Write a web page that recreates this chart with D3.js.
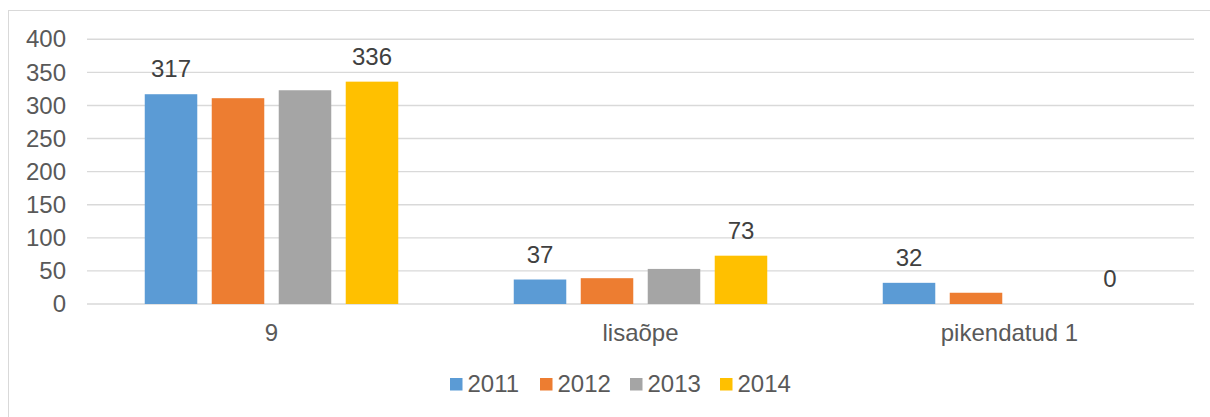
<!DOCTYPE html>
<html>
<head>
<meta charset="utf-8">
<script src="https://cdn.jsdelivr.net/npm/d3@7"></script>
<style>
  body { margin: 0; background: #fff; }
  svg { font-family: "Liberation Sans", Arial, sans-serif; }
</style>
</head>
<body>
<div id="viz"></div>
<script>
const width = 1210;
const height = 417;
const margin = {top: 39.3, right: 16, bottom: 113, left: 87};

// data
const categories = ['9', 'lisaõpe', 'pikendatud 1'];
const years = ['2011', '2012', '2013', '2014'];
const values2011 = [317, 37, 32];
const values2012 = [311, 39, 17];
const values2013 = [323, 53, 0];
const values2014 = [336, 73, 0];
const yTicks = [0, 50, 100, 150, 200, 250, 300, 350, 400];
const labelledYears = ['2011', '2014'];

const colors = {'2011': '#5B9BD5', '2012': '#ED7D31', '2013': '#A5A5A5', '2014': '#FFC000'};
const seriesValues = {'2011': values2011, '2012': values2012, '2013': values2013, '2014': values2014};

const svg = d3.select('#viz')
  .append('svg')
    .attr('width', width)
    .attr('height', height);

// chart border (only top and left are inside the picture)
svg.append('rect')
  .attr('x', 8.5)
  .attr('y', 10.5)
  .attr('width', 1210)
  .attr('height', 500)
  .attr('fill', 'none')
  .attr('stroke', '#d9d9d9')
  .attr('stroke-width', 1);

const x0 = d3.scaleBand()
  .domain(categories)
  .range([margin.left, width - margin.right]);

const x1 = d3.scaleBand()
  .domain(years)
  .range([0, x0.bandwidth()])
  .paddingInner(0.216)
  .paddingOuter(0.862);

const yScale = d3.scaleLinear()
  .domain([0, 400])
  .range([height - margin.bottom, margin.top]);

// gridlines
svg.append('g')
  .selectAll('line')
  .data(yTicks)
  .join('line')
    .attr('x1', margin.left)
    .attr('x2', width - margin.right)
    .attr('y1', d => yScale(d))
    .attr('y2', d => yScale(d))
    .attr('stroke', '#d9d9d9')
    .attr('stroke-width', 1.4);

// y axis labels
const yAxis = d3.axisLeft(yScale)
  .tickValues(yTicks)
  .tickSize(0)
  .tickPadding(0);
const yAxisGroup = svg.append('g')
  .attr('transform', `translate(${margin.left - 21}, 0)`)
  .call(yAxis);
yAxisGroup.select('.domain').remove();
yAxisGroup.selectAll('text')
  .attr('fill', '#595959')
  .style('font-size', '24px')
  .attr('dy', '0.32em');

// bars
const groups = svg.append('g')
  .selectAll('g')
  .data(categories)
  .join('g')
    .attr('transform', d => `translate(${x0(d)}, 0)`);

groups.selectAll('rect')
  .data((c, i) => years.map(yr => ({year: yr, value: seriesValues[yr][i]})))
  .join('rect')
    .attr('x', d => x1(d.year))
    .attr('y', d => yScale(d.value))
    .attr('width', x1.bandwidth())
    .attr('height', d => yScale(0) - yScale(d.value))
    .attr('fill', d => colors[d.year]);

// data labels
groups.selectAll('text')
  .data((c, i) => labelledYears.map(yr => ({year: yr, value: seriesValues[yr][i]})))
  .join('text')
    .attr('x', d => x1(d.year) + x1.bandwidth() / 2)
    .attr('y', d => yScale(d.value) - 17)
    .attr('text-anchor', 'middle')
    .attr('fill', '#404040')
    .style('font-size', '24px')
    .text(d => d.value);

// category labels
svg.append('g')
  .selectAll('text')
  .data(categories)
  .join('text')
    .attr('x', d => x0(d) + x0.bandwidth() / 2)
    .attr('y', 341)
    .attr('text-anchor', 'middle')
    .attr('fill', '#595959')
    .style('font-size', '24px')
    .text(d => d);

// legend
const legend = svg.append('g')
  .attr('transform', 'translate(450, 0)');
const item = legend.selectAll('g')
  .data(years)
  .join('g')
    .attr('transform', (d, i) => `translate(${i * 90}, 0)`);
item.append('rect')
  .attr('x', 0)
  .attr('y', 378)
  .attr('width', 12.5)
  .attr('height', 12.5)
  .attr('fill', d => colors[d]);
item.append('text')
  .attr('x', 17.5)
  .attr('y', 392)
  .attr('fill', '#595959')
  .style('font-size', '24px')
  .text(d => d);
</script>
</body>
</html>
